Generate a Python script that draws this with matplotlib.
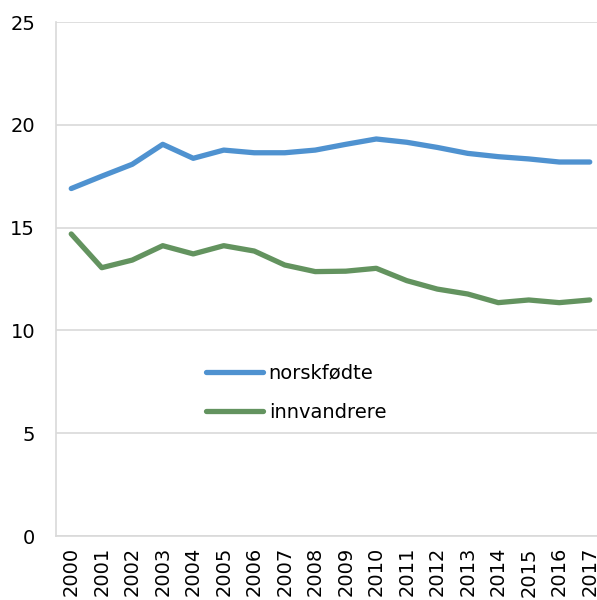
import matplotlib
matplotlib.use("Agg")
import matplotlib.pyplot as plt

years = [str(y) for y in range(2000, 2018)]
norskfodte = [16.9, 17.5, 18.08, 19.05, 18.37, 18.77, 18.64, 18.64, 18.77, 19.05,
              19.31, 19.15, 18.9, 18.61, 18.45, 18.34, 18.19, 18.19]
innvandrere = [14.69, 13.05, 13.42, 14.12, 13.72, 14.12, 13.86, 13.18, 12.86, 12.88,
               13.02, 12.42, 12.01, 11.77, 11.35, 11.48, 11.35, 11.48]

plt.rcParams['font.family'] = ['DejaVu Sans']
fig = plt.figure(figsize=(5.97, 6.0), dpi=100)
ax = fig.add_axes([56/597, 1-536/600, (605-56)/597, (536-22)/600])

x = list(range(len(years)))
ax.plot(x, norskfodte, color='#4F92D0', lw=3.8, solid_capstyle='round', label='norskfødte')
ax.plot(x, innvandrere, color='#63935F', lw=3.8, solid_capstyle='round', label='innvandrere')

ax.set_xlim(-0.5, len(years) - 0.5)
ax.set_ylim(0, 25)
ax.set_yticks([0, 5, 10, 15, 20, 25])
ax.set_xticks(x)
ax.set_xticklabels(years, rotation=90, fontsize=14)
ax.tick_params(axis='y', labelsize=14, length=0, pad=15)
ax.tick_params(axis='x', length=0, pad=8)
ax.grid(axis='y', color='#D9D9D9', lw=1.2)
ax.set_axisbelow(True)
for s in ['top', 'right']:
    ax.spines[s].set_visible(False)
ax.spines['left'].set_color('#D9D9D9')
ax.spines['bottom'].set_color('#D9D9D9')
ax.spines['left'].set_linewidth(1.2)
ax.spines['bottom'].set_linewidth(1.2)

leg = ax.legend(loc='upper left', bbox_to_anchor=((188-56)/549, 1-(346-22)/514),
                frameon=False, fontsize=14, handlelength=2.95, handletextpad=0.3,
                labelspacing=1.06)

fig.savefig('out.png', dpi=100)
